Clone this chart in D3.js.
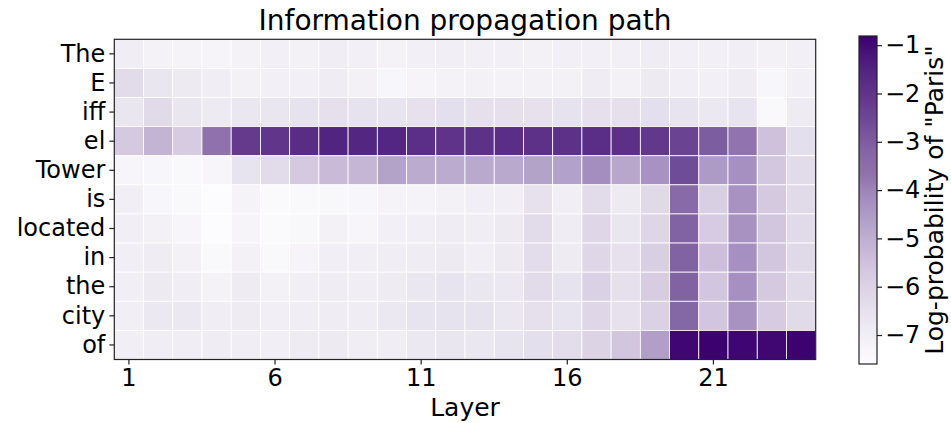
<!DOCTYPE html>
<html>
<head>
<meta charset="utf-8">
<script src="https://cdn.jsdelivr.net/npm/d3@7"></script>
<style>
  html, body { margin: 0; padding: 0; background: #fff; }
  svg { display: block; font-family: "DejaVu Sans", sans-serif; }
</style>
</head>
<body>
<div id="chart"></div>
<script>
// ---------------- data ----------------
const tokens = ["The", "E", "iff", "el", "Tower", "is", "located", "in", "the", "city", "of"];
const layers = [1,2,3,4,5,6,7,8,9,10,11,12,13,14,15,16,17,18,19,20,21,22,23,24];
const xTickLabels = [1, 6, 11, 16, 21];
const colorbarTicks = [-1, -2, -3, -4, -5, -6, -7];
const colorDomain = [-7.6, -0.81];

const rowThe     = [-6.95,-7.15,-7.2,-7.25,-7.15,-7.05,-7.1,-6.95,-7.05,-7.15,-7.05,-7.0,-7.05,-7.05,-7.1,-7.05,-7.05,-7.05,-6.9,-7.05,-7.05,-7.0,-7.1,-7.05];
const rowE       = [-6.3,-6.65,-6.8,-6.95,-7.1,-7.05,-7.05,-6.9,-7.1,-7.35,-7.25,-7.15,-7.1,-7.15,-7.1,-7.1,-6.9,-7.1,-6.8,-7.0,-7.05,-6.9,-7.35,-7.05];
const rowIff     = [-6.65,-6.25,-6.65,-6.8,-6.7,-6.65,-6.55,-6.45,-6.55,-6.6,-6.5,-6.4,-6.45,-6.45,-6.5,-6.55,-6.45,-6.45,-6.4,-6.6,-6.75,-6.6,-7.45,-6.85];
const rowEl      = [-5.7,-5.15,-5.77,-3.66,-2.17,-2.03,-1.76,-1.49,-1.56,-1.56,-1.83,-1.96,-1.9,-1.8,-1.9,-1.9,-1.8,-1.85,-2.1,-2.4,-3.0,-3.7,-5.5,-6.4];
const rowTower   = [-7.3,-7.35,-7.45,-7.3,-6.6,-6.3,-5.7,-5.3,-5.2,-4.7,-4.9,-4.9,-4.85,-4.85,-4.7,-4.65,-4.2,-4.8,-4.3,-2.6,-4.5,-4.25,-5.65,-6.3];
const rowIs      = [-7.0,-7.35,-7.45,-7.6,-7.2,-7.5,-7.45,-7.4,-7.35,-7.2,-7.2,-7.1,-7.0,-7.0,-6.5,-7.0,-6.3,-6.8,-6.2,-3.35,-5.9,-4.3,-5.7,-6.25];
const rowLocated = [-7.0,-7.1,-7.3,-7.6,-7.25,-7.5,-7.4,-7.1,-7.3,-7.05,-7.0,-6.9,-6.95,-6.8,-6.3,-6.9,-6.15,-6.65,-6.1,-3.15,-5.75,-4.3,-5.6,-6.25];
const rowIn      = [-7.0,-6.9,-7.1,-7.45,-7.1,-7.45,-7.25,-7.0,-7.0,-6.95,-6.9,-6.8,-7.0,-6.8,-6.35,-6.85,-6.15,-6.5,-5.9,-3.15,-5.45,-4.25,-5.6,-6.2];
const rowThe2    = [-7.0,-6.8,-6.95,-7.15,-6.85,-7.1,-7.0,-6.9,-6.95,-6.85,-6.7,-6.6,-6.7,-6.75,-6.3,-6.55,-5.95,-6.45,-5.8,-3.15,-5.6,-4.25,-5.7,-6.25];
const rowCity    = [-7.0,-6.75,-6.75,-6.95,-6.85,-7.0,-6.95,-6.9,-6.9,-6.75,-6.6,-6.55,-6.55,-6.7,-6.45,-6.6,-6.15,-6.5,-5.95,-3.25,-5.6,-4.3,-5.75,-6.25];
const rowOf      = [-7.0,-6.95,-6.95,-6.9,-6.95,-7.0,-6.85,-6.8,-6.95,-6.95,-6.75,-6.65,-6.7,-6.6,-6.4,-6.35,-6.0,-5.6,-4.6,-0.95,-0.81,-0.9,-0.95,-0.85];
const logProb = [rowThe, rowE, rowIff, rowEl, rowTower, rowIs, rowLocated, rowIn, rowThe2, rowCity, rowOf];

// ---------------- palette (purple ramp as seen in the reference) ----------------
const paletteValues = [-7.6, -7.0, -6.3, -5.7, -5.15, -4.7, -4.2, -3.66, -3.3, -2.6, -2.17, -1.49, -0.81];
const paletteColors = ["#fcfbfd", "#f1eff5", "#e2dcea", "#d5c9e0", "#c4b4d4", "#b4a3c9", "#a48ec0",
                       "#8f72ab", "#8669a6", "#6f4c97", "#653a8d", "#512480", "#3c006f"];

// ---------------- layout ----------------
const W = 951, H = 423;
const plot = { left: 114.3, right: 815.7, top: 39.3, bottom: 359.5 };
const cbar = { left: 859, right: 877, top: 36, bottom: 364 };
const tickFont = 24, labelFont = 25, titleFont = 28;

const svg = d3.select("#chart").append("svg").attr("width", W).attr("height", H);

const x = d3.scaleBand().domain(layers).range([plot.left, plot.right]).padding(0);
const y = d3.scaleBand().domain(tokens).range([plot.top, plot.bottom]).padding(0);
const color = d3.scaleLinear().domain(paletteValues).range(paletteColors)
  .interpolate(d3.interpolateRgb).clamp(true);

const cells = [];
logProb.forEach((row, i) => row.forEach((v, j) => cells.push({ token: tokens[i], layer: layers[j], v })));

svg.append("g").selectAll("rect").data(cells).join("rect")
  .attr("x", d => x(d.layer))
  .attr("y", d => y(d.token))
  .attr("width", x.bandwidth())
  .attr("height", y.bandwidth())
  .attr("fill", d => color(d.v))
  .attr("stroke", "#fff")
  .attr("stroke-width", 0.8);

// frame
svg.append("rect")
  .attr("x", plot.left).attr("y", plot.top)
  .attr("width", plot.right - plot.left).attr("height", plot.bottom - plot.top)
  .attr("fill", "none").attr("stroke", "#222").attr("stroke-width", 1.2);

// x axis
const xAxis = d3.axisBottom(x).tickValues(xTickLabels).tickSize(5).tickPadding(4);
const gx = svg.append("g").attr("transform", `translate(0,${plot.bottom})`).call(xAxis);
gx.select(".domain").remove();
gx.selectAll("line").attr("stroke", "#222").attr("stroke-width", 1.2);
gx.selectAll("text").attr("font-size", tickFont).attr("fill", "#000").attr("font-family", "DejaVu Sans");

// y axis
const yAxis = d3.axisLeft(y).tickSize(5).tickPadding(4);
const gy = svg.append("g").attr("transform", `translate(${plot.left},0)`).call(yAxis);
gy.select(".domain").remove();
gy.selectAll("line").attr("stroke", "#222").attr("stroke-width", 1.2);
gy.selectAll("text").attr("font-size", tickFont).attr("fill", "#000").attr("font-family", "DejaVu Sans");

// title & axis label
svg.append("text").attr("x", (plot.left + plot.right) / 2).attr("y", 30)
  .attr("text-anchor", "middle").attr("font-size", titleFont).text("Information propagation path");
svg.append("text").attr("x", (plot.left + plot.right) / 2).attr("y", 416)
  .attr("text-anchor", "middle").attr("font-size", labelFont).text("Layer");

// colorbar
const cy = d3.scaleLinear().domain(colorDomain).range([cbar.bottom, cbar.top]);
const defs = svg.append("defs");
const grad = defs.append("linearGradient").attr("id", "cbgrad")
  .attr("x1", 0).attr("y1", 1).attr("x2", 0).attr("y2", 0);
d3.range(0, 1.0001, 0.02).forEach(t => {
  grad.append("stop").attr("offset", t).attr("stop-color", color(colorDomain[0] + t * (colorDomain[1] - colorDomain[0])));
});
svg.append("rect").attr("x", cbar.left).attr("y", cbar.top)
  .attr("width", cbar.right - cbar.left).attr("height", cbar.bottom - cbar.top)
  .attr("fill", "url(#cbgrad)").attr("stroke", "#222").attr("stroke-width", 1.2);
const cAxis = d3.axisRight(cy).tickValues(colorbarTicks).tickSize(5).tickPadding(3)
  .tickFormat(d => "\u2212" + Math.abs(d));
const gc = svg.append("g").attr("transform", `translate(${cbar.right},0)`).call(cAxis);
gc.select(".domain").remove();
gc.selectAll("line").attr("stroke", "#222").attr("stroke-width", 1.2);
gc.selectAll("text").attr("font-size", tickFont).attr("fill", "#000").attr("font-family", "DejaVu Sans");

svg.append("text")
  .attr("transform", `translate(943,${(cbar.top + cbar.bottom) / 2}) rotate(-90)`)
  .attr("text-anchor", "middle").attr("font-size", labelFont)
  .text('Log-probability of "Paris"');
</script>
</body>
</html>
